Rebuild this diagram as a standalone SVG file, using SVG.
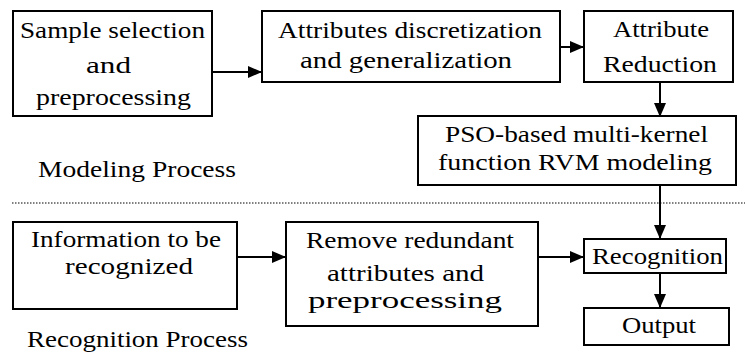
<svg xmlns="http://www.w3.org/2000/svg" width="745" height="356" viewBox="0 0 745 356">
<style>
.box{fill:#fff;stroke:#000;stroke-width:2}
.t{font-family:"Liberation Serif","Times New Roman",serif;font-size:23px;fill:#000}
.c{stroke:#000;stroke-width:2;fill:none}
</style>
<defs>
<marker id="ah" markerUnits="userSpaceOnUse" markerWidth="14" markerHeight="12" refX="14" refY="6" orient="auto">
<path d="M0,0 L14,6 L0,12 z" fill="#000"/>
</marker>
</defs>
<rect width="745" height="356" fill="#fff"/>
<g id="connectors">
<line class="c" x1="212" y1="72" x2="262" y2="72" marker-end="url(#ah)"/>
<line class="c" x1="560" y1="47" x2="584" y2="47" marker-end="url(#ah)"/>
<line class="c" x1="660" y1="82" x2="660" y2="117" marker-end="url(#ah)"/>
<line class="c" x1="660" y1="185" x2="660" y2="239" marker-end="url(#ah)"/>
<line class="c" x1="237" y1="257" x2="286" y2="257" marker-end="url(#ah)"/>
<line class="c" x1="538" y1="257" x2="584" y2="257" marker-end="url(#ah)"/>
<line class="c" x1="660" y1="273" x2="660" y2="308" marker-end="url(#ah)"/>
<line x1="12" y1="203" x2="745" y2="203" stroke="#000" stroke-width="1" stroke-dasharray="1.5,1.5"/>
</g>
<g id="n1">
<rect class="box" x="13" y="11" width="199" height="105"/>
<text class="t" x="20" y="38" textLength="185" lengthAdjust="spacingAndGlyphs">Sample selection</text>
<text class="t" x="86" y="73" textLength="45" lengthAdjust="spacingAndGlyphs">and</text>
<text class="t" x="36" y="105" textLength="155" lengthAdjust="spacingAndGlyphs">preprocessing</text>
</g>
<g id="n2">
<rect class="box" x="262" y="11" width="298" height="71"/>
<text class="t" x="278" y="38" textLength="264" lengthAdjust="spacingAndGlyphs">Attributes discretization</text>
<text class="t" x="300" y="68" textLength="212" lengthAdjust="spacingAndGlyphs">and generalization</text>
</g>
<g id="n3">
<rect class="box" x="584" y="11" width="149" height="71"/>
<text class="t" x="613" y="37" textLength="96" lengthAdjust="spacingAndGlyphs">Attribute</text>
<text class="t" x="603" y="72" textLength="114" lengthAdjust="spacingAndGlyphs">Reduction</text>
</g>
<g id="n4">
<rect class="box" x="418" y="116" width="318" height="69"/>
<text class="t" x="445" y="142" textLength="263" lengthAdjust="spacingAndGlyphs">PSO-based multi-kernel</text>
<text class="t" x="438" y="170" textLength="274" lengthAdjust="spacingAndGlyphs">function RVM modeling</text>
</g>
<g id="modeling-label">
<text class="t" x="38" y="177" textLength="198" lengthAdjust="spacingAndGlyphs">Modeling Process</text>
</g>
<g id="n5">
<rect class="box" x="13" y="222" width="224" height="87"/>
<text class="t" x="31" y="247" textLength="190" lengthAdjust="spacingAndGlyphs">Information to be</text>
<text class="t" x="65" y="274" textLength="128" lengthAdjust="spacingAndGlyphs">recognized</text>
</g>
<g id="n6">
<rect class="box" x="286" y="222" width="252" height="104"/>
<text class="t" x="306" y="248" textLength="208" lengthAdjust="spacingAndGlyphs">Remove redundant</text>
<text class="t" x="327" y="281" textLength="157" lengthAdjust="spacingAndGlyphs">attributes and</text>
<text class="t" x="308" y="308" textLength="194" lengthAdjust="spacingAndGlyphs">preprocessing</text>
</g>
<g id="n7">
<rect class="box" x="584" y="239" width="142" height="34"/>
<text class="t" x="592" y="264" textLength="131" lengthAdjust="spacingAndGlyphs">Recognition</text>
</g>
<g id="n8">
<rect class="box" x="584" y="308" width="145" height="37"/>
<text class="t" x="622" y="333" textLength="74" lengthAdjust="spacingAndGlyphs">Output</text>
</g>
<g id="recognition-label">
<text class="t" x="27" y="347" textLength="221" lengthAdjust="spacingAndGlyphs">Recognition Process</text>
</g>
</svg>
